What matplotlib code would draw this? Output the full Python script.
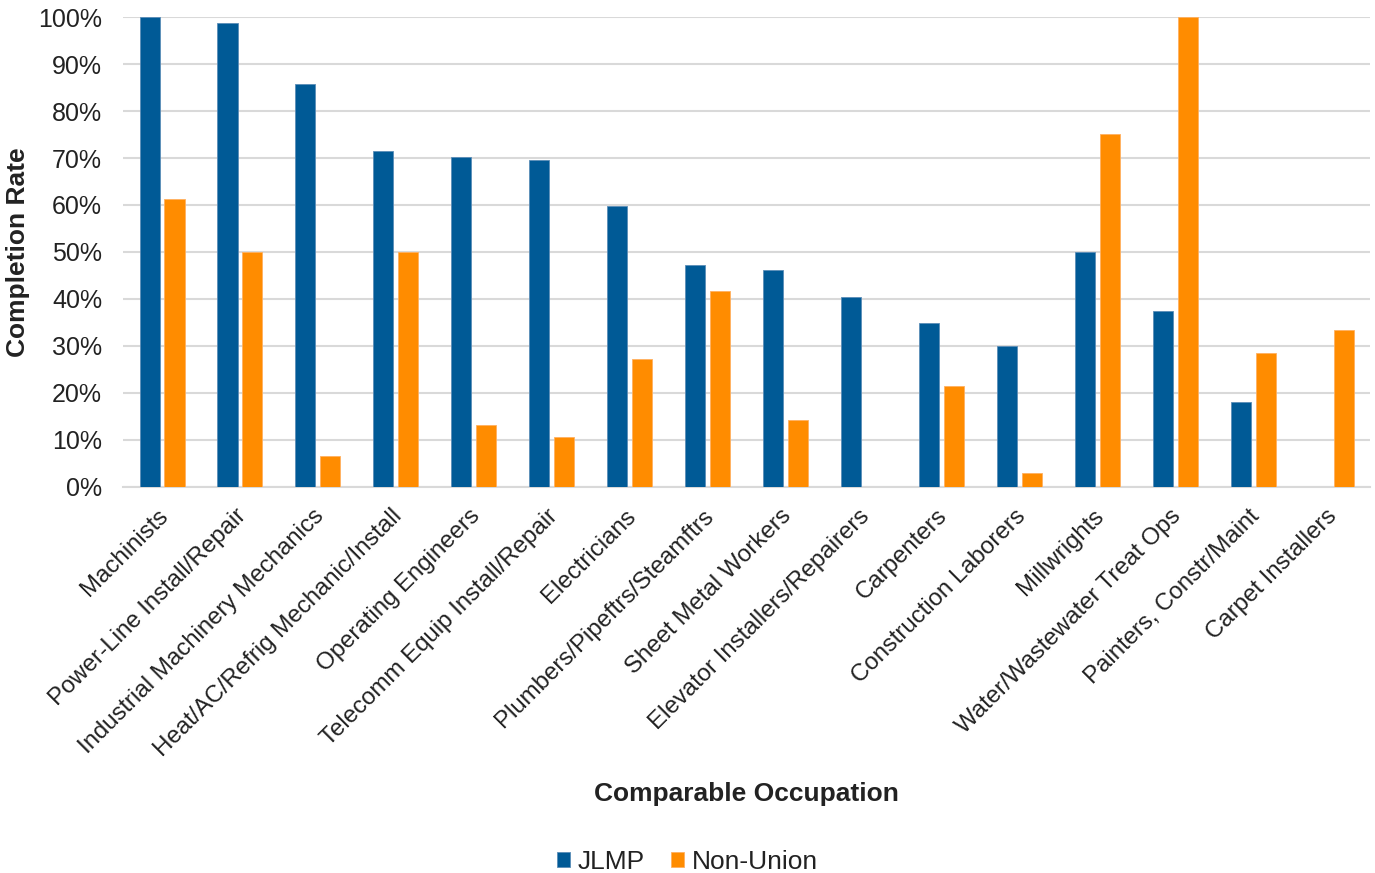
import matplotlib
matplotlib.use("Agg")
import matplotlib.pyplot as plt
import matplotlib.transforms as mtransforms
import numpy as np
from matplotlib.ticker import PercentFormatter

categories = ["Machinists", "Power-Line Install/Repair", "Industrial Machinery Mechanics",
              "Heat/AC/Refrig Mechanic/Install", "Operating Engineers",
              "Telecomm Equip Install/Repair", "Electricians", "Plumbers/Pipeftrs/Steamftrs",
              "Sheet Metal Workers", "Elevator Installers/Repairers", "Carpenters",
              "Construction Laborers", "Millwrights", "Water/Wastewater Treat Ops",
              "Painters, Constr/Maint", "Carpet Installers"]
jlmp = [100, 98.7, 85.7, 71.5, 70.2, 69.6, 59.8, 47.2, 46.2, 40.4, 34.9, 30.0, 50.0, 37.4, 18.1, np.nan]
non_union = [61.3, 50.0, 6.6, 50.0, 13.2, 10.6, 27.2, 41.7, 14.3, np.nan, 21.5, 3.0, 75.1, 100, 28.5, 33.4]
yticks = list(range(0, 101, 10))

plt.rcParams['font.family'] = ['Liberation Sans', 'DejaVu Sans']

fig = plt.figure(figsize=(13.75, 8.73), dpi=100)
ax = fig.add_axes([0.0895, 0.4422, 0.9069, 0.5383])

x = np.arange(len(categories))
w = 0.257
off = 0.16
blue = "#005A96"
orange = "#FF8C00"
ax.bar(x - off, jlmp, width=w, color=blue, edgecolor="#5B8DB8", linewidth=0.6, label="JLMP", zorder=3)
ax.bar(x + off, non_union, width=w, color=orange, edgecolor="#FFB060", linewidth=0.6, label="Non-Union", zorder=3)

txtc = "#222222"
ax.set_xlim(-0.5, len(categories) - 0.5)
ax.set_ylim(0, 100)
ax.set_yticks(yticks)
ax.yaxis.set_major_formatter(PercentFormatter(decimals=0))
ax.grid(axis="y", color="#D9D9D9", linewidth=1.5, zorder=0)
for s in ["top", "right", "left"]:
    ax.spines[s].set_visible(False)
ax.spines["bottom"].set_color("#D9D9D9")
ax.spines["bottom"].set_linewidth(1.5)
ax.tick_params(axis="both", length=0, colors=txtc)
ax.tick_params(axis="y", pad=15, labelsize=18)
ax.set_xticks(x)
ax.set_xticklabels(categories, rotation=45, ha="right", va="top", rotation_mode="anchor")
ax.tick_params(axis="x", pad=13, labelsize=17.3)
shift = mtransforms.ScaledTranslation(-5 / 100, 0, fig.dpi_scale_trans)
for lbl in ax.get_xticklabels():
    lbl.set_transform(lbl.get_transform() + shift)

ax.set_ylabel("Completion Rate", fontsize=19, fontweight="bold", color=txtc)
ax.yaxis.set_label_coords(-0.0745, 0.5)
ax.set_xlabel("Comparable Occupation", fontsize=19, fontweight="bold", color=txtc)
ax.xaxis.set_label_coords(0.5, -0.627)

leg = fig.legend(loc="center", bbox_to_anchor=(0.5, 0.0125), ncol=2, frameon=False,
                 fontsize=19, handlelength=0.5, handleheight=0.5, handletextpad=0.3,
                 columnspacing=1.0)
for t in leg.get_texts():
    t.set_color(txtc)

fig.savefig("out.png", dpi=100)
